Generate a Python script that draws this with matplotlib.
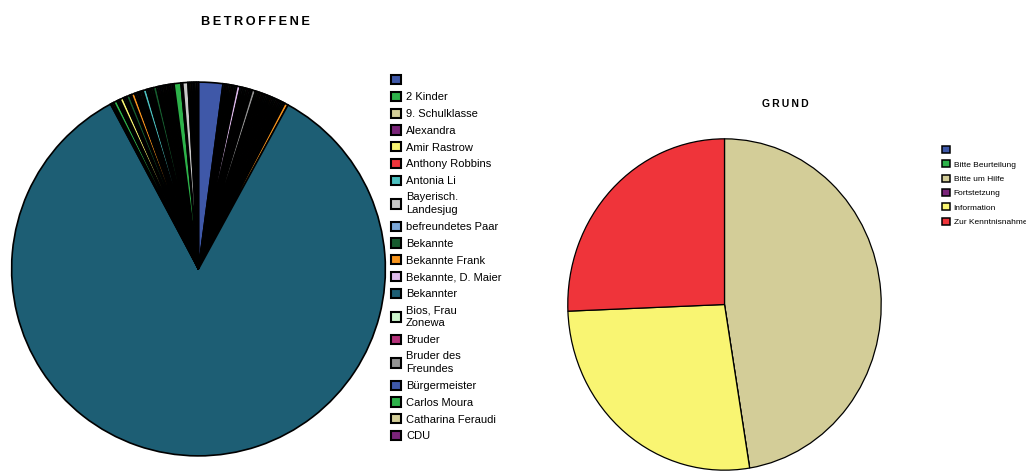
import matplotlib
matplotlib.use("Agg")
import matplotlib.pyplot as plt
from matplotlib.patches import Patch

plt.rcParams['font.family'] = ['Liberation Sans', 'DejaVu Sans']

# Farbpalette (zyklisch, nach alphabetischer Reihenfolge der Kategorien)
palette = ['#3F58A8', '#2DB24A', '#D3CD98', '#7A2479', '#F9F572', '#EF343A',
           '#4CC0C0', '#C8C8C8', '#7BA7D7', '#165B2E', '#F7941D', '#DDB9EA',
           '#1D5E74', '#CDF5CC', '#B5327A', '#939393']

# BETROFFENE - Reihenfolge wie im Kreis (im Uhrzeigersinn ab 12 Uhr)
betroffene_namen = [
    "",
    "9. Schulklasse", "Alexandra", "Anthony Robbins", "befreundetes Paar",
    "Dagmar Kühn", "Daniel Ortiz", "Deutsche Bahn", "Diakonie",
    "Bekannte, D. Maier",
    "Doris Lang", "Ehefrau", "Ehemann", "Eltern", "Elternbeirat", "Enkel",
    "Erika Sommer",
    "Bruder des\nFreundes",
    "Familie Braun", "Familie Weber", "Feuerwehr", "Frau Keller", "Freund",
    "Freundin", "Gemeinde", "Georg Lindner", "Geschwister", "Großeltern",
    "Gruppe Nord", "Hausarzt", "Helga Fischer", "Herr Winkler", "Ingrid Roth",
    "Jugendamt", "Jugendgruppe", "Kathrin Vogel",
    "Bekannte Frank",
    "Bekannter",
    "Kirchengemeinde", "Klasse 7b",
    "2 Kinder",
    "Kollege", "Kollegin",
    "Amir Rastrow",
    "Landratsamt", "Lehrer",
    "Bekannte",
    "Lehrerin",
    "Dr. Hofmann",
    "Markus End", "Mutter", "Nachbar", "Nachbarin", "Nichte",
    "Antonia Li",
    "Onkel", "Pfarrer", "Polizei", "Rathaus",
    "Dr. Albrecht",
    "Bios, Frau\nZonewa", "Bruder", "Bürgermeister", "Catharina Feraudi", "CDU",
    "Schüler", "Schwester", "Sohn", "Sportverein", "Stadtrat",
    "Carlos Moura",
    "Tante",
    "Bayerisch.\nLandesjug",
    "Vater", "Verein", "Verwandte", "Walter Graf", "Wohngruppe", "Zeitung",
]
betroffene_anzahl = [
    14,
    1, 1, 1, 1,
    1, 1, 1, 1,
    2,
    1, 1, 1, 1, 1, 1,
    1,
    2,
    1, 1, 1, 1, 1,
    1, 1, 1, 1, 1,
    1, 1, 1, 1, 1,
    1, 1, 1,
    2,
    562,
    1, 1,
    2,
    1, 1,
    2,
    1, 1,
    2,
    1,
    2,
    1, 1, 1, 1, 1,
    2,
    1, 1, 1, 1,
    2,
    1, 1, 1, 1, 1,
    1, 1, 1, 1, 1,
    4,
    1,
    3,
    1, 1, 1, 1, 1, 1,
]

# GRUND
grund_namen = ["", "Bitte Beurteilung", "Bitte um Hilfe", "Fortstetzung",
               "Information", "Zur Kenntnisnahme"]
grund_anzahl = [0, 0, 37, 0, 21, 20]

fig = plt.figure(figsize=(10.26, 4.72), dpi=100)

# --- linker Kreis ---
legend_order = sorted(betroffene_namen, key=str.lower)
farbe = {n: palette[i % len(palette)] for i, n in enumerate(legend_order)}

ax1 = fig.add_axes([10 / 1026, 15 / 472, 377 / 1026, 376 / 472])
ax1.pie(betroffene_anzahl, colors=[farbe[n] for n in betroffene_namen],
        startangle=90, counterclock=False,
        wedgeprops=dict(edgecolor='black', linewidth=1.2))
ax1.set_xlim(-1.006, 1.006)
ax1.set_ylim(-1.006, 1.006)

# Legende zeigt nur die Einträge, die ins Bild passen (bis "CDU")
shown = legend_order[:20]
handles1 = [Patch(facecolor=farbe[n], edgecolor='black', linewidth=1.5)
            for n in shown]
labels1 = [n if n else " " for n in shown]
leg1 = fig.legend(handles1, labels1, loc='upper left',
                  bbox_to_anchor=(391 / 1026, 1 - 75 / 472), frameon=False,
                  fontsize=8, handlelength=0.9, handleheight=0.9,
                  handletextpad=0.45, labelspacing=0.57, borderpad=0,
                  borderaxespad=0)
for t in leg1.get_texts():
    t.set_linespacing(1.35)

fig.text(255.5 / 1026, 1 - 22 / 472, "\u2009".join("BETROFFENE"),
         ha='center', va='center', fontsize=9.2, fontweight='bold')

# --- rechter Kreis ---
farben2 = [palette[i % len(palette)] for i in range(len(grund_namen))]
ax2 = fig.add_axes([567 / 1026, 1 / 472, 315 / 1026, 333 / 472])
ax2.pie(grund_anzahl, colors=farben2, startangle=90, counterclock=False,
        wedgeprops=dict(edgecolor='black', linewidth=0.9))
ax2.set_aspect('auto')
ax2.set_xlim(-1.005, 1.005)
ax2.set_ylim(-1.005, 1.005)

handles2 = [Patch(facecolor=c, edgecolor='black', linewidth=1.1) for c in farben2]
labels2 = [n if n else " " for n in grund_namen]
fig.legend(handles2, labels2, loc='upper left',
           bbox_to_anchor=(942 / 1026, 1 - 146 / 472), frameon=False,
           fontsize=6, handlelength=0.9, handleheight=0.9,
           handletextpad=0.5, labelspacing=0.72, borderpad=0,
           borderaxespad=0)

fig.text(785.5 / 1026, 1 - 104 / 472, "\u2009".join("GRUND"),
         ha='center', va='center', fontsize=7.5, fontweight='bold')

fig.savefig("out.png", dpi=100)
